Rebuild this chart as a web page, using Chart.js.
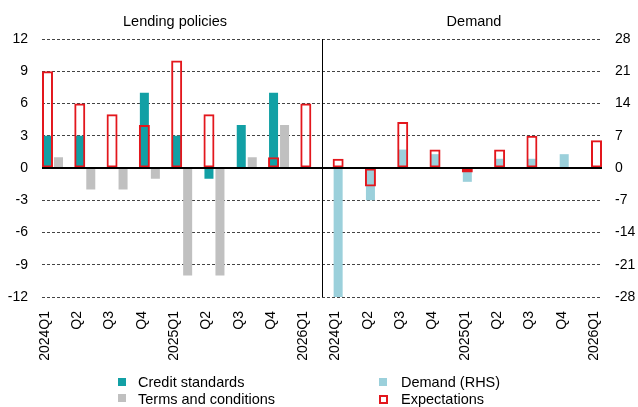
<!DOCTYPE html>
<html>
<head>
<meta charset="utf-8">
<script src="https://cdn.jsdelivr.net/npm/chart.js@4.4.1/dist/chart.umd.min.js"></script>
<style>
  html, body { margin: 0; padding: 0; background: #fff; }
  #wrap { position: relative; width: 638px; height: 407px; font-family: "Liberation Sans", Arial, sans-serif; }
  #chart { position: absolute; left: 0; top: 0; }
  .leg { position: absolute; font-size: 14.5px; color: #000; line-height: 17px; white-space: nowrap; }
  .leg i { position: absolute; width: 8px; height: 8px; }
</style>
</head>
<body>
<div id="wrap">
  <canvas id="chart" width="638" height="407"></canvas>
  <div class="leg" style="left:118px;top:374px;"><i style="left:0;top:4px;background:#12a0a5"></i><span style="margin-left:20px">Credit standards</span></div>
  <div class="leg" style="left:118px;top:391px;"><i style="left:0;top:3px;background:#c0c0c0"></i><span style="margin-left:20px">Terms and conditions</span></div>
  <div class="leg" style="left:379px;top:374px;"><i style="left:0;top:4px;background:#9bd0db"></i><span style="margin-left:22px">Demand (RHS)</span></div>
  <div class="leg" style="left:379px;top:391px;"><i style="left:0;top:4px;width:5px;height:5px;border:2px solid #e3171d"></i><span style="margin-left:22px">Expectations</span></div>
</div>
<script>
// quarters shown in each panel
const quarters = ['2024Q1', 'Q2', 'Q3', 'Q4', '2025Q1', 'Q2', 'Q3', 'Q4', '2026Q1'];
const panelTitles = ['Lending policies', 'Demand'];

// lending policies panel (left axis)
const creditStandards = [3, 3, 0, 7, 3, -1, 4, 7, null];
const termsConditions = [1, -2, -2, -1, -10, -10, 1, 4, null];
const expectationsLending = [9, 6, 5, 4, 10, 5, null, 1, 6];

// demand panel (right axis)
const demand = [-28, -7, 4, 3, -3, 2, 2, 3, null];
const expectationsDemand = [2, -4, 10, 4, -1, 4, 7, null, 6];

const leftTicks = [-12, -9, -6, -3, 0, 3, 6, 9, 12];
const rightTicks = [-28, -21, -14, -7, 0, 7, 14, 21, 28];

const allLabels = quarters.concat(quarters);
const n = quarters.length;

const toPoints = (arr, shift) => arr.map((v, i) => ({ x: i + shift, y: v }));

const tickFont = { family: "'Liberation Sans', Arial, sans-serif", size: 14 };

const panelDecor = {
  id: 'panelDecor',
  afterDatasetsDraw(chart) {
    const { ctx, chartArea: a, scales } = chart;
    const y0 = scales.y.getPixelForValue(0);
    const mid = Math.round((a.left + a.right) / 2) + 0.5;
    ctx.save();
    ctx.strokeStyle = '#000';
    ctx.lineWidth = 1;
    ctx.beginPath();
    ctx.moveTo(mid, a.top);
    ctx.lineTo(mid, a.bottom);
    ctx.stroke();
    ctx.lineWidth = 2;
    ctx.beginPath();
    ctx.moveTo(a.left, y0);
    ctx.lineTo(a.right, y0);
    ctx.stroke();
    ctx.font = "14.5px 'Liberation Sans', Arial, sans-serif";
    ctx.fillStyle = '#000';
    ctx.textAlign = 'center';
    ctx.textBaseline = 'middle';
    ctx.fillText(panelTitles[0], 175, 22);
    ctx.fillText(panelTitles[1], 474, 22);
    ctx.restore();
  }
};

const barBase = { categoryPercentage: 0.681, barPercentage: 0.82, borderWidth: 0 };
const expBase = {
  categoryPercentage: 0.681, barPercentage: 1,
  backgroundColor: 'rgba(0,0,0,0)', borderColor: '#e3171d',
  borderWidth: 2, borderSkipped: false, stack: 'A'
};

new Chart(document.getElementById('chart'), {
  type: 'bar',
  data: {
    datasets: [
      Object.assign({ label: 'Expectations', data: toPoints(expectationsLending, 0), yAxisID: 'y' }, expBase),
      Object.assign({ label: 'Expectations', data: toPoints(expectationsDemand, n), yAxisID: 'y1' }, expBase),
      Object.assign({ label: 'Credit standards', data: toPoints(creditStandards, 0), yAxisID: 'y',
        backgroundColor: '#12a0a5', stack: 'A' }, barBase),
      Object.assign({ label: 'Terms and conditions', data: toPoints(termsConditions, 0), yAxisID: 'y',
        backgroundColor: '#c0c0c0', stack: 'B' }, barBase),
      Object.assign({ label: 'Demand (RHS)', data: toPoints(demand, n), yAxisID: 'y1',
        backgroundColor: '#9bd0db', stack: 'A' }, barBase)
    ]
  },
  options: {
    responsive: false,
    animation: false,
    layout: { padding: { top: 39, left: 0, right: 0, bottom: 0 } },
    plugins: { legend: { display: false }, tooltip: { enabled: false } },
    scales: {
      x: {
        type: 'linear',
        offset: false,
        min: -0.34,
        max: 17.0,
        grid: { display: false, offset: false },
        border: { display: false },
        afterFit: (s) => { s.height = 110; },
        afterBuildTicks: (s) => { s.ticks = allLabels.map((l, i) => ({ value: i })); },
        ticks: {
          minRotation: 90,
          maxRotation: 90,
          padding: 6,
          labelOffset: -8,
          color: '#000',
          font: tickFont,
          callback: (v) => allLabels[v]
        }
      },
      y: {
        position: 'left',
        stacked: false,
        min: -12,
        max: 12,
        afterFit: (s) => { s.width = 42; },
        afterBuildTicks: (s) => { s.ticks = leftTicks.map((v) => ({ value: v })); },
        grid: {
          drawTicks: false,
          color: (c) => (c.tick && c.tick.value === 0 ? 'rgba(0,0,0,0)' : '#444'),
          lineWidth: 1
        },
        border: { display: false, dash: [3, 2] },
        ticks: { padding: 14, color: '#000', font: tickFont }
      },
      y1: {
        position: 'right',
        stacked: false,
        min: -28,
        max: 28,
        afterFit: (s) => { s.width = 36; },
        afterBuildTicks: (s) => { s.ticks = rightTicks.map((v) => ({ value: v })); },
        grid: { drawOnChartArea: false, drawTicks: false },
        border: { display: false },
        ticks: { padding: 13, color: '#000', font: tickFont }
      }
    }
  },
  plugins: [panelDecor]
});
</script>
</body>
</html>
